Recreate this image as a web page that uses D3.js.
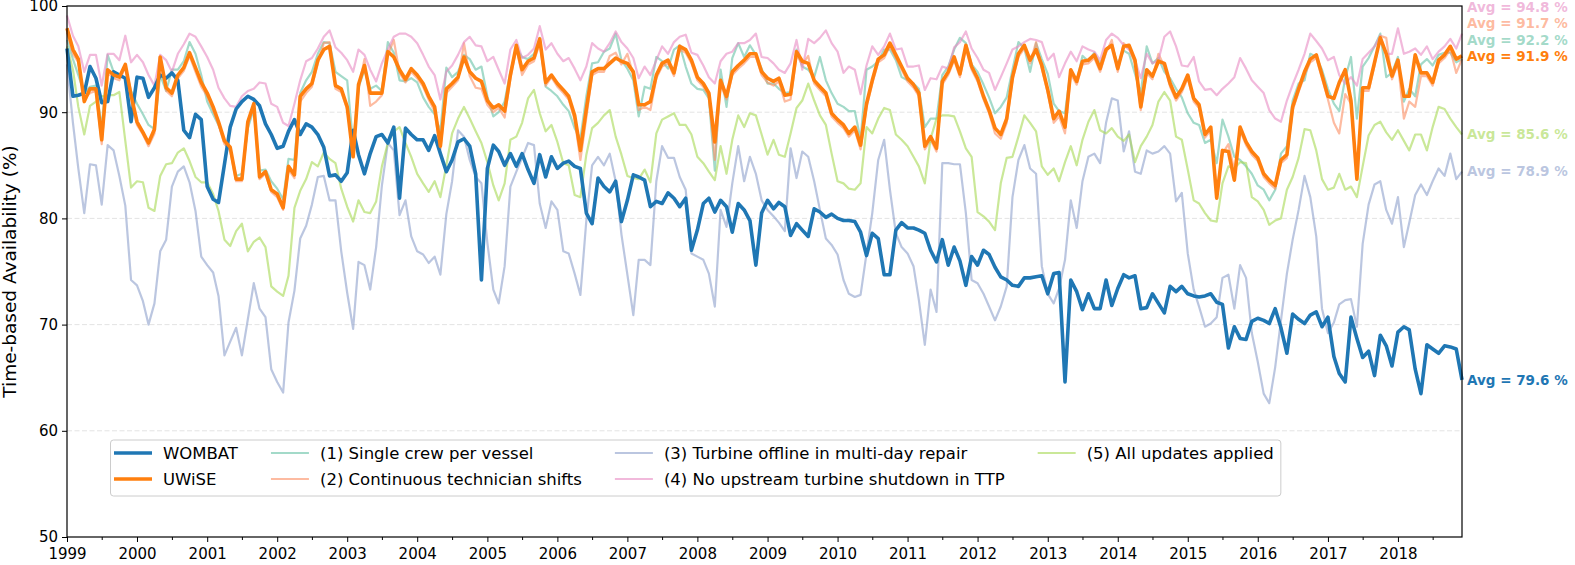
<!DOCTYPE html>
<html lang="en">
<head>
<meta charset="UTF-8">
<title>Time-based Availability</title>
<script src="https://d3js.org/d3.v7.min.js"></script>
<style>
  body { margin: 0; background: #fff; }
  svg text { font-family: "DejaVu Sans", sans-serif; fill: #000; }
</style>
</head>
<body>
<script>

// monthly values, Jan 1999 .. Dec 2018 (one row per year)
var wombat = [
  96.0, 91.5, 91.6, 91.8, 94.3, 93.2, 90.9, 91.0, 93.8, 93.5, 93.2, 89.1,
  93.3, 93.2, 91.4, 92.3, 93.5, 93.2, 93.7, 93.0, 88.3, 87.6, 89.8, 89.3,
  83.0, 81.8, 81.5, 85.1, 88.6, 90.3, 91.0, 91.5, 91.2, 90.6, 88.9, 87.9,
  86.6, 86.8, 88.2, 89.3, 87.9, 88.9, 88.6, 87.9, 86.7, 84.0, 84.1, 83.5,
  84.3, 88.3, 86.0, 84.2, 86.1, 87.7, 87.9, 87.1, 88.6, 81.9, 88.5, 87.9,
  87.4, 87.4, 86.4, 87.8, 86.1, 84.4, 85.5, 87.2, 87.5, 86.8, 84.2, 74.2,
  84.7, 86.9, 86.3, 85.0, 86.1, 84.9, 86.1, 84.6, 83.3, 86.0, 83.9, 85.8,
  84.7, 85.2, 85.4, 84.9, 84.7, 80.5, 79.5, 83.8, 83.0, 82.5, 83.5, 79.7,
  81.7, 84.1, 83.9, 83.6, 81.1, 81.6, 81.4, 82.4, 81.9, 81.1, 81.9, 77.0,
  78.9, 81.4, 81.9, 80.6, 81.7, 81.1, 78.7, 81.4, 80.8, 79.8, 75.6, 80.5,
  81.7, 80.9, 81.5, 81.1, 78.4, 79.5, 78.9, 78.3, 80.9, 80.6, 80.1, 80.4,
  80.0, 79.8, 79.8, 79.7, 78.7, 76.5, 78.6, 78.1, 74.7, 74.7, 78.9, 79.6,
  79.1, 79.1, 78.9, 78.6, 77.0, 75.9, 78.0, 75.6, 77.3, 76.0, 73.7, 76.4,
  75.6, 77.0, 76.6, 75.4, 74.5, 74.2, 73.7, 73.6, 74.4, 74.4, 74.5, 74.6,
  72.9, 74.8, 74.9, 64.6, 74.2, 73.1, 71.4, 72.9, 71.5, 71.5, 74.2, 71.8,
  73.4, 74.7, 74.4, 74.6, 71.5, 71.6, 72.9, 72.0, 71.1, 73.6, 73.1, 73.6,
  72.9, 72.7, 72.6, 72.7, 72.9, 72.1, 71.9, 67.8, 69.8, 68.7, 68.6, 70.3,
  70.6, 70.4, 70.1, 71.5, 69.7, 67.3, 71.0, 70.5, 70.1, 70.9, 71.2, 69.8,
  70.7, 67.0, 65.4, 64.6, 70.7, 68.7, 66.9, 67.5, 65.2, 69.0, 68.0, 66.1,
  69.3, 69.8, 69.5, 65.8, 63.5, 68.1, 67.7, 67.3, 68.0, 67.9, 67.7, 64.8
];

var uwise = [
  97.9, 95.9, 95.0, 91.0, 92.2, 92.2, 87.4, 94.0, 93.5, 93.3, 94.5, 91.6,
  89.1, 88.1, 87.1, 88.4, 95.2, 92.3, 91.8, 93.5, 94.2, 95.6, 94.2, 92.8,
  91.8, 90.5, 89.1, 87.3, 86.7, 83.7, 83.7, 89.1, 90.8, 83.9, 84.4, 82.7,
  82.3, 81.0, 84.9, 84.1, 91.5, 92.2, 92.7, 94.9, 95.9, 96.2, 92.5, 92.2,
  90.5, 85.8, 92.6, 94.4, 91.8, 91.8, 91.8, 95.7, 95.2, 94.0, 93.1, 94.1,
  93.5, 92.7, 91.5, 90.5, 86.8, 92.2, 92.7, 93.3, 95.2, 93.8, 93.2, 92.9,
  91.1, 90.4, 90.7, 90.1, 93.5, 96.3, 94.0, 94.8, 95.1, 96.9, 92.8, 93.5,
  92.7, 92.1, 91.5, 89.7, 86.4, 90.3, 93.8, 94.1, 94.1, 94.6, 95.1, 94.8,
  94.6, 93.8, 90.7, 90.7, 91.0, 93.5, 94.6, 94.9, 93.7, 96.2, 95.9, 94.9,
  93.3, 92.7, 91.8, 87.2, 93.0, 91.5, 93.8, 94.4, 94.9, 95.5, 95.5, 93.8,
  93.2, 92.9, 93.2, 91.6, 91.7, 95.7, 94.8, 94.6, 93.0, 92.4, 91.8, 89.9,
  89.3, 88.8, 88.0, 88.6, 86.9, 90.8, 93.0, 95.0, 95.4, 96.5, 95.4, 94.3,
  93.2, 92.6, 91.8, 86.8, 87.7, 86.6, 92.9, 93.8, 95.2, 93.6, 96.3, 94.3,
  93.2, 91.5, 90.2, 88.5, 87.9, 89.4, 93.3, 95.5, 96.3, 94.9, 95.9, 94.4,
  92.1, 89.4, 90.1, 88.6, 94.0, 92.9, 94.8, 94.9, 95.4, 94.1, 95.9, 96.3,
  94.1, 96.2, 96.3, 94.9, 90.5, 94.0, 93.4, 94.8, 94.6, 92.7, 91.4, 92.2,
  93.5, 91.3, 90.7, 87.9, 88.6, 81.9, 86.4, 86.3, 83.6, 88.6, 87.2, 86.3,
  85.7, 84.2, 83.6, 83.1, 85.5, 86.0, 90.5, 92.2, 93.8, 95.0, 95.4, 93.5,
  91.5, 91.3, 92.8, 94.0, 91.1, 83.7, 92.3, 92.3, 94.7, 97.0, 95.5, 93.4,
  94.9, 91.5, 91.5, 95.4, 93.7, 93.7, 92.8, 94.9, 95.4, 96.2, 95.0, 95.3
];

var singleCrew = [
  96.8, 95.0, 93.5, 91.8, 92.4, 92.5, 88.5, 95.4, 93.8, 93.4, 94.2, 92.0,
  90.8, 89.8, 88.8, 88.4, 93.5, 92.0, 94.0, 94.0, 94.8, 96.6, 95.5, 93.5,
  91.0, 89.8, 88.8, 87.3, 86.5, 84.0, 84.2, 88.5, 90.3, 84.5, 84.6, 83.5,
  82.8, 81.8, 85.6, 85.5, 91.8, 93.0, 93.8, 95.5, 96.6, 96.5, 93.8, 93.4,
  93.0, 87.0, 92.3, 94.0, 92.2, 92.5, 92.0, 96.6, 95.6, 93.0, 92.9, 93.2,
  92.8, 91.4, 90.5, 89.8, 88.2, 94.2, 93.3, 93.8, 95.4, 95.0, 94.0, 94.3,
  91.5, 89.6, 90.0, 91.0, 93.8, 96.0, 95.2, 95.0, 95.5, 97.0, 92.4, 92.0,
  91.5, 90.7, 90.1, 88.5, 87.5, 91.5, 94.6, 94.7, 95.7, 96.0, 97.4, 94.9,
  94.1, 93.0, 89.6, 92.4, 92.2, 95.2, 94.8, 94.1, 95.9, 96.3, 94.3, 92.7,
  92.2, 92.1, 91.3, 84.5, 94.0, 90.5, 95.1, 96.5, 95.2, 96.3, 95.4, 94.1,
  92.7, 92.7, 92.2, 91.8, 91.9, 95.9, 94.3, 94.0, 93.3, 95.2, 93.0, 91.8,
  90.8, 90.5, 90.1, 90.1, 87.4, 94.0, 94.3, 94.8, 95.9, 95.9, 94.9, 93.3,
  93.0, 92.7, 92.2, 88.6, 89.4, 89.4, 93.5, 94.3, 95.9, 97.0, 96.5, 94.5,
  93.8, 92.6, 91.4, 89.9, 90.5, 91.4, 94.0, 96.6, 96.0, 93.8, 96.5, 95.0,
  93.6, 90.8, 90.1, 89.9, 94.0, 92.9, 95.3, 94.8, 95.6, 94.5, 95.9, 96.3,
  94.5, 95.8, 95.5, 93.6, 91.8, 96.2, 94.6, 95.1, 93.8, 93.2, 92.2, 91.4,
  89.9, 89.0, 88.8, 87.1, 87.4, 85.2, 89.3, 87.7, 85.8, 85.5, 84.9, 84.2,
  83.1, 82.7, 81.7, 82.7, 86.1, 86.8, 91.1, 92.7, 93.0, 95.5, 95.2, 94.0,
  92.2, 90.8, 90.1, 93.2, 95.2, 89.4, 94.3, 95.1, 96.2, 97.4, 93.3, 93.7,
  95.2, 91.0, 92.2, 91.5, 94.5, 95.0, 94.4, 95.4, 95.6, 95.6, 94.7, 95.0
];

var contShifts = [
  97.5, 95.5, 94.7, 91.3, 91.8, 92.0, 87.0, 93.7, 93.2, 93.0, 94.2, 91.3,
  88.8, 87.9, 86.8, 88.0, 94.8, 92.0, 91.5, 93.2, 93.9, 95.3, 93.8, 92.4,
  91.5, 90.2, 88.8, 87.0, 86.4, 83.5, 83.5, 88.8, 90.5, 83.7, 84.2, 82.5,
  82.0, 80.8, 84.6, 83.8, 91.0, 91.8, 92.4, 94.6, 96.5, 96.6, 92.2, 91.9,
  90.3, 86.2, 92.2, 95.0, 90.6, 91.0, 91.6, 95.4, 96.8, 93.7, 92.8, 93.8,
  93.2, 92.4, 91.2, 90.1, 86.5, 91.8, 92.4, 93.0, 96.5, 93.4, 92.3, 92.2,
  90.7, 90.0, 90.4, 89.5, 93.2, 96.0, 93.5, 94.5, 94.8, 96.5, 92.5, 93.3,
  92.4, 91.8, 91.2, 89.3, 85.5, 89.5, 93.5, 93.8, 93.8, 95.3, 95.6, 94.5,
  95.5, 93.5, 90.2, 90.5, 90.2, 93.2, 94.3, 94.6, 93.4, 95.9, 95.6, 94.6,
  93.0, 92.4, 91.5, 85.5, 92.6, 91.2, 93.5, 94.1, 94.6, 95.2, 95.2, 93.5,
  92.8, 92.5, 92.9, 91.0, 91.2, 95.4, 94.5, 95.3, 92.7, 92.1, 91.5, 89.6,
  89.0, 88.5, 87.7, 88.3, 86.5, 90.5, 92.7, 94.7, 95.1, 96.2, 95.1, 94.0,
  92.9, 92.3, 91.5, 86.5, 87.4, 86.3, 92.6, 93.5, 94.9, 93.3, 96.0, 94.0,
  92.9, 91.2, 89.9, 88.0, 87.5, 89.0, 93.0, 95.2, 96.0, 94.6, 96.6, 94.1,
  91.8, 89.0, 89.6, 88.0, 93.6, 92.6, 94.5, 94.6, 95.1, 93.8, 95.6, 96.8,
  93.8, 96.5, 96.0, 94.6, 90.2, 93.7, 93.1, 95.5, 94.3, 92.4, 91.1, 91.9,
  93.2, 91.0, 90.4, 87.6, 88.3, 82.5, 86.1, 87.0, 84.5, 88.3, 86.9, 86.0,
  85.4, 83.9, 83.3, 82.8, 85.2, 85.7, 90.2, 91.9, 93.5, 94.7, 95.1, 93.2,
  91.2, 89.0, 88.0, 91.7, 90.8, 84.0, 92.0, 92.0, 94.4, 97.2, 97.0, 93.1,
  94.6, 89.4, 91.0, 90.5, 93.4, 93.4, 92.5, 94.6, 95.1, 95.9, 93.7, 95.0
];

var offlineRepair = [
  94.5, 89.0, 84.7, 80.5, 85.1, 85.0, 81.3, 86.9, 86.4, 84.0, 81.2, 74.2,
  73.7, 72.2, 70.0, 72.0, 76.9, 78.0, 83.0, 84.4, 84.9, 83.4, 80.7, 76.4,
  75.6, 74.9, 72.7, 67.1, 68.4, 69.7, 67.1, 70.5, 73.9, 71.5, 70.7, 65.8,
  64.6, 63.6, 70.2, 73.2, 78.1, 79.3, 81.3, 83.9, 84.0, 81.7, 81.7, 76.9,
  73.0, 69.6, 75.9, 75.6, 73.3, 77.3, 83.1, 87.1, 86.4, 80.3, 81.7, 78.3,
  76.9, 76.6, 75.8, 76.4, 74.7, 80.4, 83.5, 88.3, 87.7, 85.5, 83.9, 83.3,
  77.7, 73.3, 72.0, 75.5, 83.0, 84.4, 85.7, 87.1, 86.9, 81.4, 79.1, 81.6,
  80.8, 76.9, 76.7, 74.8, 72.8, 79.8, 85.0, 85.8, 85.0, 86.1, 83.5, 78.5,
  74.7, 70.9, 76.1, 76.1, 75.6, 83.5, 86.8, 85.7, 85.7, 83.9, 82.7, 76.7,
  76.4, 76.1, 74.8, 71.7, 80.8, 79.2, 83.3, 86.8, 83.5, 85.8, 84.2, 81.7,
  80.8, 80.2, 79.6, 78.8, 86.6, 83.8, 86.3, 85.8, 83.5, 80.8, 78.1, 77.5,
  76.6, 74.2, 72.9, 72.6, 72.8, 76.7, 80.5, 85.5, 87.4, 82.7, 78.6, 77.3,
  76.7, 75.5, 72.3, 68.1, 73.3, 71.2, 85.2, 85.2, 85.1, 85.1, 80.5, 74.2,
  73.9, 72.9, 71.7, 70.4, 71.7, 73.6, 82.0, 85.5, 86.9, 84.7, 84.2, 75.5,
  72.9, 72.0, 73.4, 76.1, 81.7, 79.1, 83.5, 85.8, 86.1, 85.2, 89.0, 91.3,
  91.1, 86.3, 88.2, 84.4, 84.2, 86.4, 86.1, 86.3, 86.8, 86.1, 81.6, 82.4,
  76.7, 73.3, 71.7, 69.8, 70.1, 70.7, 74.4, 74.7, 71.5, 75.6, 74.4, 69.2,
  66.5, 63.5, 62.6, 66.0, 70.4, 74.8, 78.0, 80.8, 84.0, 82.0, 78.3, 71.5,
  69.2, 70.2, 71.9, 72.3, 72.4, 69.8, 77.6, 81.3, 83.2, 83.5, 80.8, 79.5,
  82.0, 77.3, 79.6, 82.2, 83.2, 82.2, 83.5, 84.7, 84.0, 86.1, 83.7, 84.4
];

var noShutdown = [
  99.1, 97.2, 96.2, 93.8, 95.4, 95.4, 92.5, 95.5, 95.5, 94.9, 97.2, 94.7,
  95.4, 94.7, 93.5, 92.5, 95.4, 94.9, 93.8, 95.5, 96.4, 97.4, 97.1, 96.2,
  95.2, 94.0, 92.3, 91.3, 90.6, 90.5, 91.5, 92.0, 92.2, 92.8, 92.7, 90.8,
  90.5, 89.0, 88.7, 90.8, 93.0, 94.8, 95.1, 96.0, 97.1, 97.7, 96.1, 95.6,
  94.9, 93.8, 95.9, 95.4, 94.0, 92.9, 94.6, 95.9, 97.1, 97.4, 97.4, 97.1,
  96.5, 95.4, 94.3, 93.5, 91.2, 93.8, 94.4, 95.4, 96.6, 97.1, 96.3, 96.2,
  94.8, 95.2, 94.0, 92.7, 95.9, 96.8, 95.1, 95.4, 96.0, 98.1, 95.9, 96.5,
  95.5, 94.8, 95.1, 94.1, 93.0, 94.3, 96.5, 96.0, 95.7, 96.5, 97.6, 96.6,
  96.0, 95.1, 93.2, 94.3, 93.5, 94.9, 96.2, 95.5, 96.6, 97.1, 97.3, 95.6,
  95.4, 94.4, 93.3, 92.7, 94.8, 95.5, 95.7, 96.5, 96.5, 96.8, 97.4, 95.2,
  95.1, 94.6, 94.0, 93.7, 94.6, 96.8, 94.0, 96.9, 96.5, 97.0, 97.7, 96.5,
  95.7, 93.7, 94.3, 94.0, 91.7, 94.4, 96.2, 95.4, 96.2, 97.4, 95.9, 96.0,
  94.3, 94.3, 94.4, 92.1, 93.2, 93.1, 94.3, 94.1, 96.1, 96.6, 97.6, 96.0,
  95.1, 94.0, 93.7, 92.1, 93.3, 94.6, 95.9, 96.2, 96.6, 96.9, 96.8, 96.6,
  94.9, 95.5, 93.3, 94.6, 95.7, 94.8, 96.2, 95.9, 95.7, 94.9, 96.8, 97.4,
  97.0, 96.3, 95.9, 94.9, 93.2, 95.5, 94.6, 94.9, 97.1, 97.6, 96.2, 94.4,
  94.3, 95.2, 92.9, 92.1, 92.2, 91.6, 92.2, 92.7, 93.3, 95.1, 94.1, 93.0,
  92.4, 91.8, 90.2, 89.4, 89.1, 91.1, 92.6, 94.0, 95.5, 97.4, 96.7, 96.0,
  94.9, 95.2, 93.5, 92.7, 93.3, 92.5, 95.0, 95.6, 96.2, 97.2, 95.5, 95.5,
  97.9, 95.5, 95.7, 96.0, 95.4, 96.2, 95.0, 95.7, 96.2, 96.9, 96.0, 97.4
];

var allUpdates = [
  96.2, 94.0, 90.5, 87.9, 90.6, 91.0, 91.5, 91.6, 91.6, 91.9, 87.3, 82.9,
  83.5, 83.4, 81.0, 80.7, 84.0, 85.1, 85.2, 86.2, 86.6, 85.4, 83.9, 83.4,
  83.4, 82.3, 80.7, 78.0, 77.4, 78.8, 79.5, 76.9, 77.8, 78.2, 77.3, 73.6,
  73.1, 72.7, 74.6, 81.0, 82.6, 83.7, 85.3, 84.9, 86.2, 85.6, 85.2, 82.8,
  81.1, 79.7, 81.7, 80.6, 80.5, 81.6, 84.9, 87.1, 88.2, 88.6, 87.1, 85.8,
  84.2, 83.3, 82.5, 83.5, 82.0, 85.0, 88.0, 89.4, 90.5, 89.4, 88.2, 87.1,
  85.3, 83.1, 81.7, 83.3, 87.4, 87.7, 89.0, 91.3, 92.1, 89.9, 88.2, 88.8,
  87.2, 85.2, 85.0, 82.2, 82.0, 86.0, 88.5, 89.0, 89.7, 90.2, 87.7, 86.0,
  84.0, 83.8, 83.7, 84.6, 83.4, 88.0, 89.3, 89.6, 89.9, 88.8, 88.8, 87.9,
  85.8, 85.2, 84.4, 83.6, 86.8, 84.2, 87.4, 89.7, 88.6, 89.9, 89.7, 87.9,
  86.0, 87.4, 86.0, 85.8, 88.0, 90.4, 91.1, 92.7, 91.1, 89.7, 88.8, 86.1,
  83.5, 83.3, 82.8, 82.7, 83.3, 88.6, 88.0, 89.4, 90.4, 90.2, 87.9, 87.4,
  86.8, 85.8, 84.9, 83.3, 87.5, 89.4, 89.7, 89.7, 89.6, 88.2, 86.6, 85.8,
  80.6, 80.2, 79.7, 78.9, 83.3, 85.7, 85.8, 87.7, 89.7, 89.0, 88.2, 84.9,
  84.1, 84.7, 83.5, 85.3, 86.8, 85.0, 87.4, 89.1, 90.2, 88.3, 88.0, 88.5,
  87.7, 87.3, 87.9, 85.3, 86.8, 87.7, 88.8, 91.0, 91.9, 91.1, 87.7, 87.4,
  84.6, 81.7, 81.4, 80.5, 79.8, 79.7, 83.3, 84.9, 84.7, 85.3, 85.2, 82.0,
  81.6, 80.8, 79.4, 79.8, 80.0, 82.7, 83.9, 85.7, 88.4, 88.3, 86.4, 83.7,
  82.7, 82.9, 84.2, 82.7, 83.0, 82.0, 84.9, 87.8, 88.8, 89.1, 88.1, 87.4,
  88.3, 87.3, 86.4, 87.9, 87.9, 86.4, 88.6, 90.5, 90.3, 89.4, 88.6, 87.9
];

var seriesNames = ["WOMBAT", "UWiSE", "(1) Single crew per vessel",
  "(2) Continuous technician shifts", "(3) Turbine offline in multi-day repair",
  "(4) No upstream turbine shutdown in TTP", "(5) All updates applied"];
var avgLabels = ["79.6", "91.9", "92.2", "91.7", "78.9", "94.8", "85.6"];
var yTicks = [50, 60, 70, 80, 90, 100];
var firstYear = 1999, lastYear = 2018;

var width = 1575, height = 565;
var margin = { top: 6, right: 113, bottom: 28, left: 67 };

var months = d3.range(wombat.length).map(function (i) { return new Date(firstYear, i, 1); });

var series = [
  { values: singleCrew,    color: "#66c2a5", lw: 2.2, op: 0.6 },
  { values: contShifts,    color: "#fc8d62", lw: 2.2, op: 0.6 },
  { values: offlineRepair, color: "#8da0cb", lw: 2.2, op: 0.6 },
  { values: noShutdown,    color: "#e78ac3", lw: 2.2, op: 0.6 },
  { values: allUpdates,    color: "#a6d854", lw: 2.2, op: 0.6 },
  { values: wombat,        color: "#1f77b4", lw: 3.6, op: 1 },
  { values: uwise,         color: "#ff7f0e", lw: 3.6, op: 1 }
];
// names / avg labels follow the order of seriesNames
var byName = [5, 6, 0, 1, 2, 3, 4];
byName.forEach(function (si, k) {
  series[si].name = seriesNames[k];
  series[si].avg = avgLabels[k];
});

var svg = d3.select("body").append("svg")
    .attr("width", width)
    .attr("height", height);

var x = d3.scaleTime()
    .domain([months[0], months[months.length - 1]])
    .range([margin.left, width - margin.right]);

var y = d3.scaleLinear()
    .domain([50, 100])
    .range([height - margin.bottom, margin.top]);

// dashed grid
svg.append("g")
  .selectAll("line")
  .data(yTicks.slice(1, -1))
  .enter().append("line")
    .attr("x1", margin.left).attr("x2", width - margin.right)
    .attr("y1", function (d) { return y(d); })
    .attr("y2", function (d) { return y(d); })
    .attr("stroke", "#b0b0b0")
    .attr("stroke-opacity", 0.35)
    .attr("stroke-width", 1)
    .attr("stroke-dasharray", "5,2.5");

// lines
var line = d3.line()
    .x(function (d, i) { return x(months[i]); })
    .y(function (d) { return y(d); });

svg.append("g")
  .selectAll("path")
  .data(series)
  .enter().append("path")
    .attr("d", function (d) { return line(d.values); })
    .attr("fill", "none")
    .attr("stroke", function (d) { return d.color; })
    .attr("stroke-opacity", function (d) { return d.op; })
    .attr("stroke-width", function (d) { return d.lw; })
    .attr("stroke-linejoin", "round");

// axes
var yearTicks = d3.range(firstYear, lastYear + 1).map(function (yr) { return new Date(yr, 0, 1); });
var midTicks = d3.range(firstYear, lastYear + 1).map(function (yr) { return new Date(yr, 6, 1); });

svg.append("g")
    .attr("transform", "translate(0," + (height - margin.bottom) + ")")
    .call(d3.axisBottom(x).tickValues(yearTicks).tickFormat(d3.timeFormat("%Y"))
      .tickSize(5).tickPadding(6));
svg.append("g")
    .attr("transform", "translate(0," + (height - margin.bottom) + ")")
    .call(d3.axisBottom(x).tickValues(midTicks).tickFormat("").tickSize(3))
    .call(function (g) { g.select(".domain").remove(); });

svg.append("g")
    .attr("transform", "translate(" + margin.left + ",0)")
    .call(d3.axisLeft(y).tickValues(yTicks).tickSize(5).tickPadding(4));

svg.selectAll(".tick text")
    .attr("font-family", "DejaVu Sans")
    .attr("font-size", 15);
svg.selectAll(".tick line").attr("stroke", "#000").attr("stroke-width", 1);

// frame
svg.append("rect")
    .attr("x", margin.left).attr("y", margin.top)
    .attr("width", width - margin.right - margin.left)
    .attr("height", height - margin.bottom - margin.top)
    .attr("fill", "none").attr("stroke", "#000").attr("stroke-width", 1.2);
svg.selectAll(".domain").remove();

// y label
svg.append("text")
    .attr("transform", "translate(16," + ((margin.top + height - margin.bottom) / 2) + ") rotate(-90)")
    .attr("text-anchor", "middle")
    .attr("font-size", 18.5)
    .text("Time-based Availability (%)");

// average labels at right, stacked from the bottom to avoid overlap
var labelOrder = [3, 1, 0, 6, 4, 2, 5]; // top to bottom
var labelY = [];
for (var k = labelOrder.length - 1; k >= 0; k--) {
  var s = series[labelOrder[k]];
  var yy = y(s.values[s.values.length - 1]);
  if (k < labelOrder.length - 1) yy = Math.min(yy, labelY[k + 1] - 16.1);
  labelY[k] = yy;
}
svg.append("g")
  .selectAll("text")
  .data(labelOrder)
  .enter().append("text")
    .attr("x", width - margin.right + 5)
    .attr("y", function (d, k) { return labelY[k]; })
    .attr("dy", "0.35em")
    .attr("font-size", 13.5)
    .attr("font-weight", "bold")
    .style("fill", function (d) { return series[d].color; })
    .style("fill-opacity", function (d) { return series[d].op; })
    .text(function (d) { return "Avg = " + series[d].avg + " %"; });

// legend (4 columns, column-major)
var legendItems = byName.map(function (si) { return series[si]; });
var legend = svg.append("g");
var lgBox = legend.append("rect");
var rowY = [453, 479];
var colX = 114;
var handleLen = 38, handleGap = 11, colGap = 33;
var lgFont = 16.5;
for (var c = 0; c * 2 < legendItems.length; c++) {
  var maxW = 0;
  for (var r = 0; r < 2; r++) {
    var item = legendItems[c * 2 + r];
    if (!item) continue;
    legend.append("line")
        .attr("x1", colX).attr("x2", colX + handleLen)
        .attr("y1", rowY[r]).attr("y2", rowY[r])
        .attr("stroke", item.color)
        .attr("stroke-opacity", item.op)
        .attr("stroke-width", item.lw);
    var t = legend.append("text")
        .attr("x", colX + handleLen + handleGap)
        .attr("y", rowY[r])
        .attr("dy", "0.35em")
        .attr("font-size", lgFont)
        .text(item.name);
    maxW = Math.max(maxW, t.node().getComputedTextLength());
  }
  colX = colX + handleLen + handleGap + maxW + colGap;
}
lgBox.attr("x", 110.5).attr("y", 440)
    .attr("width", colX - colGap + 7 - 110.5).attr("height", 56)
    .attr("rx", 3)
    .attr("fill", "#fff").attr("fill-opacity", 0.8)
    .attr("stroke", "#cccccc").attr("stroke-width", 1);

</script>
</body>
</html>
